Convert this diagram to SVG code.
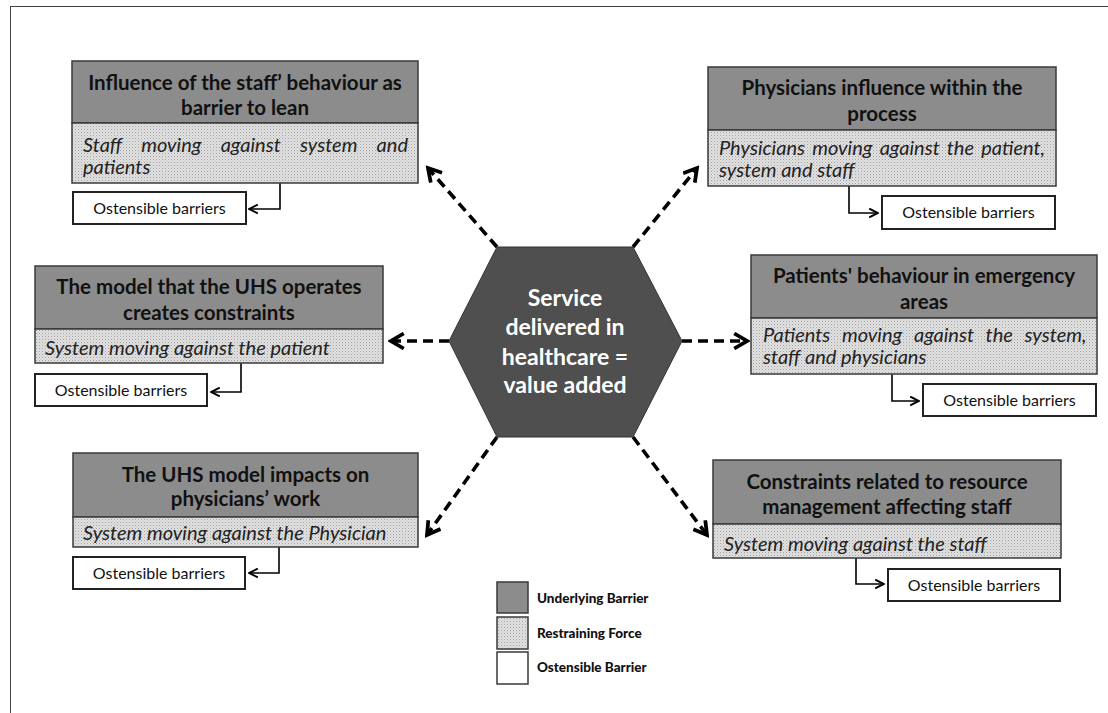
<svg xmlns="http://www.w3.org/2000/svg" width="1108" height="713" viewBox="0 0 1108 713">
<defs>
<pattern id="dots" width="3" height="3" patternUnits="userSpaceOnUse">
<rect width="3" height="3" fill="#e2e2e2"/>
<rect x="0" y="0" width="1" height="1" fill="#a0a0a0"/>
<rect x="1.5" y="1.5" width="1" height="1" fill="#b8b8b8"/>
</pattern>
<marker id="big" viewBox="0 0 12 12" refX="10" refY="6" markerWidth="18" markerHeight="18" markerUnits="userSpaceOnUse" orient="auto">
<path d="M1.5,1 L10,6 L1.5,11" fill="none" stroke="#000" stroke-width="2.5"/>
</marker>
<marker id="small" viewBox="0 0 10 10" refX="9" refY="5" markerWidth="11" markerHeight="11" markerUnits="userSpaceOnUse" orient="auto">
<path d="M1,1 L9,5 L1,9" fill="none" stroke="#000" stroke-width="1.8"/>
</marker>
</defs>
<style>
.hdr{fill:#8c8c8c;stroke:#3a3a3a;stroke-width:1.5}
.rst{fill:url(#dots);stroke:#3a3a3a;stroke-width:1.5}
.ost{fill:#fff;stroke:#222;stroke-width:2}
.ht{font-family:Lato,"Open Sans",sans-serif;font-weight:bold;font-size:20.5px;fill:#111;text-anchor:middle}
.rt{font-family:Lato,"Open Sans",sans-serif;font-style:italic;font-size:20px;fill:#222}
.ot{font-family:Lato,"Open Sans",sans-serif;font-size:16px;fill:#111;text-anchor:middle}
.lt{font-family:Lato,"Open Sans",sans-serif;font-weight:900;font-size:13.5px;fill:#111}
.hx{font-family:Lato,"Open Sans",sans-serif;font-weight:bold;font-size:23px;fill:#fff;text-anchor:middle}
.dash{fill:none;stroke:#000;stroke-width:3.6;stroke-dasharray:10 6;marker-end:url(#big)}
.elb{fill:none;stroke:#000;stroke-width:1.6;marker-end:url(#small)}
</style>
<rect x="10.5" y="6.5" width="1110" height="720" fill="none" stroke="#444" stroke-width="1"/>

<g id="connectors">
<path class="dash" d="M497,247 L428,168"/>
<path class="dash" d="M633,247 L697,168"/>
<path class="dash" d="M449,341 L391,341"/>
<path class="dash" d="M682,341 L747,341"/>
<path class="dash" d="M497,437 L427,535"/>
<path class="dash" d="M633,437 L707,535"/>
<path class="elb" d="M280,183 V209 H249"/>
<path class="elb" d="M849,186 V213 H878"/>
<path class="elb" d="M241,363 V392 H211"/>
<path class="elb" d="M892,374 V401 H919"/>
<path class="elb" d="M279,547 V573 H249"/>
<path class="elb" d="M856,558 V584 H884"/>
</g>

<g id="center">
<polygon points="449,341 497,247 633,247 682,341 633,437 497,437" fill="#4f4f4f" stroke="#333" stroke-width="1"/>
<text class="hx" x="565" y="306">Service</text>
<text class="hx" x="565" y="335">delivered in</text>
<text class="hx" x="565" y="365">healthcare =</text>
<text class="hx" x="565" y="393">value added</text>
</g>

<g id="n1">
<rect class="hdr" x="72" y="61" width="346" height="62"/>
<rect class="rst" x="72" y="123" width="346" height="60"/>
<text class="ht" x="245" y="90">Influence of the staff’ behaviour as</text>
<text class="ht" x="245" y="115">barrier to lean</text>
<text class="rt" x="83" y="152" style="word-spacing:14.5px">Staff moving against system and</text>
<text class="rt" x="83" y="174">patients</text>
</g>
<g id="n1o">
<rect class="ost" x="73" y="192" width="173" height="32"/>
<text class="ot" x="159.5" y="213.5">Ostensible barriers</text>
</g>

<g id="n2">
<rect class="hdr" x="708" y="67" width="348" height="63"/>
<rect class="rst" x="708" y="130" width="348" height="56"/>
<text class="ht" x="882" y="95">Physicians influence within the</text>
<text class="ht" x="882" y="121">process</text>
<text class="rt" x="719" y="155" style="word-spacing:2.5px">Physicians moving against the patient,</text>
<text class="rt" x="719" y="177">system and staff</text>
</g>
<g id="n2o">
<rect class="ost" x="882" y="196" width="173" height="33"/>
<text class="ot" x="968.5" y="218">Ostensible barriers</text>
</g>

<g id="n3">
<rect class="hdr" x="35" y="266" width="348" height="63"/>
<rect class="rst" x="35" y="329" width="348" height="34"/>
<text class="ht" x="209" y="294">The model that the UHS operates</text>
<text class="ht" x="209" y="320">creates constraints</text>
<text class="rt" x="45" y="355">System moving against the patient</text>
</g>
<g id="n3o">
<rect class="ost" x="35" y="374" width="172" height="32"/>
<text class="ot" x="121" y="395.5">Ostensible barriers</text>
</g>

<g id="n4">
<rect class="hdr" x="751" y="255" width="346" height="63"/>
<rect class="rst" x="751" y="318" width="346" height="56"/>
<text class="ht" x="924" y="283">Patients' behaviour in emergency</text>
<text class="ht" x="924" y="309">areas</text>
<text class="rt" x="763" y="342" style="word-spacing:7px">Patients moving against the system,</text>
<text class="rt" x="763" y="364">staff and physicians</text>
</g>
<g id="n4o">
<rect class="ost" x="923" y="384" width="173" height="32"/>
<text class="ot" x="1009.5" y="405.5">Ostensible barriers</text>
</g>

<g id="n5">
<rect class="hdr" x="73" y="453" width="345" height="64"/>
<rect class="rst" x="73" y="517" width="345" height="30"/>
<text class="ht" x="245.5" y="482">The UHS model impacts on</text>
<text class="ht" x="245.5" y="506">physicians’ work</text>
<text class="rt" x="83" y="540">System moving against the Physician</text>
</g>
<g id="n5o">
<rect class="ost" x="73" y="557" width="172" height="32"/>
<text class="ot" x="159" y="578.5">Ostensible barriers</text>
</g>

<g id="n6">
<rect class="hdr" x="713" y="460" width="348" height="64"/>
<rect class="rst" x="713" y="524" width="348" height="34"/>
<text class="ht" x="887" y="489">Constraints related to resource</text>
<text class="ht" x="887" y="514">management affecting staff</text>
<text class="rt" x="724" y="551">System moving against the staff</text>
</g>
<g id="n6o">
<rect class="ost" x="888" y="569" width="172" height="32"/>
<text class="ot" x="974" y="590.5">Ostensible barriers</text>
</g>

<g id="legend">
<rect class="hdr" x="497" y="582" width="31" height="31"/>
<rect class="rst" x="497" y="617" width="31" height="32"/>
<rect x="497" y="652" width="31" height="32" fill="#fff" stroke="#3a3a3a" stroke-width="1.5"/>
<text class="lt" x="537" y="603">Underlying Barrier</text>
<text class="lt" x="537" y="638">Restraining Force</text>
<text class="lt" x="537" y="672">Ostensible Barrier</text>
</g>
</svg>
